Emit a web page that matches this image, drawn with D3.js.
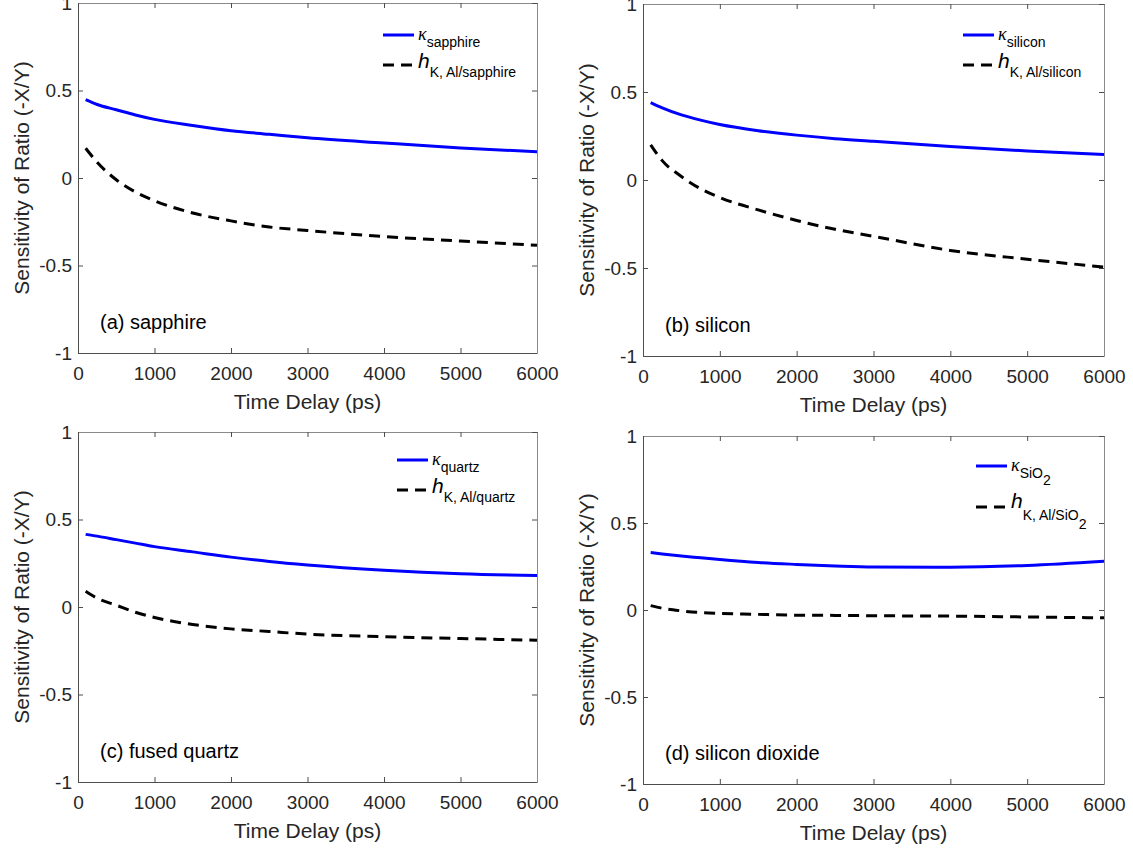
<!DOCTYPE html>
<html><head><meta charset="utf-8">
<script src="https://cdn.jsdelivr.net/npm/d3@7"></script>
<style>body{margin:0;background:#fff;} svg{display:block;font-family:Arial,"Liberation Sans",sans-serif;}</style>
</head><body>
<svg id="c" width="1133" height="851"></svg>
<script>
const times = [100, 250, 500, 750, 1000, 1500, 2000, 2500, 3000, 4000, 5000, 6000];
const xTicks = [0, 1000, 2000, 3000, 4000, 5000, 6000];
const yTicks = [-1, -0.5, 0, 0.5, 1];
const yTickLabels = ["-1", "-0.5", "0", "0.5", "1"];

const kappaSapphire = [0.448, 0.42, 0.39, 0.36, 0.335, 0.30, 0.27, 0.25, 0.23, 0.20, 0.172, 0.15];
const hSapphire     = [0.17, 0.09, -0.01, -0.08, -0.13, -0.20, -0.245, -0.28, -0.30, -0.335, -0.36, -0.385];
const kappaSilicon  = [0.44, 0.41, 0.37, 0.34, 0.315, 0.28, 0.255, 0.235, 0.22, 0.19, 0.165, 0.145];
const hSilicon      = [0.20, 0.11, 0.02, -0.05, -0.10, -0.17, -0.23, -0.28, -0.32, -0.40, -0.45, -0.495];
const kappaQuartz   = [0.415, 0.405, 0.385, 0.365, 0.345, 0.315, 0.285, 0.26, 0.24, 0.21, 0.19, 0.18];
const hQuartz       = [0.09, 0.05, 0.01, -0.03, -0.06, -0.10, -0.125, -0.14, -0.155, -0.17, -0.18, -0.19];
const kappaSiO2     = [0.33, 0.322, 0.31, 0.30, 0.29, 0.273, 0.262, 0.253, 0.247, 0.246, 0.256, 0.28];
const hSiO2         = [0.025, 0.01, -0.005, -0.015, -0.02, -0.025, -0.03, -0.031, -0.033, -0.035, -0.04, -0.045];

const panelLabels = ["(a) sapphire", "(b) silicon", "(c) fused quartz", "(d) silicon dioxide"];
const kappaSubs = ["sapphire", "silicon", "quartz", "SiO"];
const hSubs = ["K, Al/sapphire", "K, Al/silicon", "K, Al/quartz", "K, Al/SiO"];
const xLabel = "Time Delay (ps)";
const yLabel = "Sensitivity of Ratio (-X/Y)";

const panels = [
  {k: kappaSapphire, h: hSapphire, L: 78, R: 537, T: 3, B: 353, leg: [383, 35, 65], sub2: false},
  {k: kappaSilicon, h: hSilicon, L: 643, R: 1104, T: 4, B: 356, leg: [963, 35, 65], sub2: false},
  {k: kappaQuartz, h: hQuartz, L: 78, R: 537, T: 432, B: 782, leg: [397, 460, 490], sub2: false},
  {k: kappaSiO2, h: hSiO2, L: 643, R: 1104, T: 436, B: 784, leg: [976, 466, 507], sub2: true}
];

const svg = d3.select("#c");
const txt = "#262626";
const axc = "#4d4d4d";

panels.forEach((p, i) => {
  const x = d3.scaleLinear().domain([0, 6000]).range([p.L, p.R]);
  const y = d3.scaleLinear().domain([-1, 1]).range([p.B, p.T]);
  const g = svg.append("g");

  const ax = g.append("g").attr("transform", `translate(0,${p.B})`)
    .call(d3.axisBottom(x).tickValues(xTicks).tickSizeInner(-5).tickSizeOuter(0).tickPadding(14).tickFormat(d3.format("d")));
  ax.select(".domain").attr("stroke", axc);
  ax.selectAll(".tick line").attr("stroke", axc);
  ax.selectAll("text").attr("fill", txt).attr("font-size", 19).attr("font-family", "Arial");
  const ay = g.append("g").attr("transform", `translate(${p.L},0)`)
    .call(d3.axisLeft(y).tickValues(yTicks).tickSizeInner(-5).tickSizeOuter(0).tickPadding(6).tickFormat((d, j) => yTickLabels[j]));
  ay.select(".domain").attr("stroke", axc);
  ay.selectAll(".tick line").attr("stroke", axc);
  ay.selectAll("text").attr("fill", txt).attr("font-size", 19).attr("font-family", "Arial");
  const at = g.append("g").attr("transform", `translate(0,${p.T})`)
    .call(d3.axisTop(x).tickValues(xTicks).tickSizeInner(-5).tickSizeOuter(0).tickFormat(""));
  at.select(".domain").attr("stroke", "#8a8a8a");
  at.selectAll(".tick line").attr("stroke", axc);
  const ar = g.append("g").attr("transform", `translate(${p.R},0)`)
    .call(d3.axisRight(y).tickValues(yTicks).tickSizeInner(-5).tickSizeOuter(0).tickFormat(""));
  ar.select(".domain").attr("stroke", "#8a8a8a");
  ar.selectAll(".tick line").attr("stroke", axc);

  const clipId = "clip" + i;
  g.append("clipPath").attr("id", clipId).append("rect")
    .attr("x", p.L).attr("y", p.T).attr("width", p.R - p.L).attr("height", p.B - p.T);

  const line = d3.line().x((d, j) => x(times[j])).y(d => y(d)).curve(d3.curveMonotoneX);
  g.append("path").datum(p.k).attr("d", line).attr("fill", "none")
    .attr("stroke", "#0000ff").attr("stroke-width", 3).attr("clip-path", `url(#${clipId})`);
  g.append("path").datum(p.h).attr("d", line).attr("fill", "none")
    .attr("stroke", "#000").attr("stroke-width", 3).attr("stroke-dasharray", "11,7").attr("clip-path", `url(#${clipId})`);

  g.append("text").attr("x", (p.L + p.R) / 2).attr("y", p.B + 56)
    .attr("text-anchor", "middle").attr("font-size", 21).attr("fill", txt).text(xLabel);
  g.append("text").attr("transform", `translate(${p.L - 49},${(p.T + p.B) / 2}) rotate(-90)`)
    .attr("text-anchor", "middle").attr("font-size", 21).attr("fill", txt).text(yLabel);

  g.append("text").attr("x", p.L + 22).attr("y", p.B - 24)
    .attr("font-size", 20).attr("fill", "#000").text(panelLabels[i]);

  const [lx, ly1, ly2] = p.leg;
  g.append("line").attr("x1", lx).attr("x2", lx + 31).attr("y1", ly1).attr("y2", ly1)
    .attr("stroke", "#0000ff").attr("stroke-width", 3);
  g.append("line").attr("x1", lx).attr("x2", lx + 31).attr("y1", ly2).attr("y2", ly2)
    .attr("stroke", "#000").attr("stroke-width", 3).attr("stroke-dasharray", "11,7");
  const t1 = g.append("text").attr("x", lx + 35).attr("y", ly1 + 5).attr("fill", "#000");
  t1.append("tspan").attr("font-size", 18).attr("font-style", "italic").attr("font-family", "Liberation Serif, serif").text("κ");
  t1.append("tspan").attr("font-size", 14).attr("dy", 7).text(kappaSubs[i]);
  if (p.sub2) t1.append("tspan").attr("font-size", 14).attr("dy", 7).text("2");
  const t2 = g.append("text").attr("x", lx + 35).attr("y", ly2 + (p.sub2 ? 1 : 3)).attr("fill", "#000");
  t2.append("tspan").attr("font-size", 21).attr("font-style", "italic").text("h");
  t2.append("tspan").attr("font-size", 14).attr("dy", p.sub2 ? 12 : 9).text(hSubs[i]);
  if (p.sub2) t2.append("tspan").attr("font-size", 14).attr("dy", 9).text("2");
});
</script>
</body></html>
